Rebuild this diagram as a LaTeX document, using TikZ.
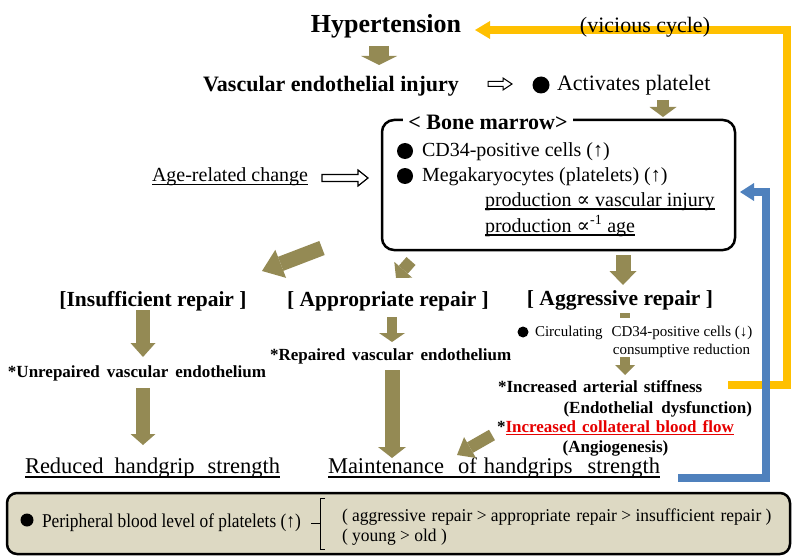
\documentclass[tikz,border=0pt]{standalone}
\usepackage{fontspec}
\setmainfont{Liberation Serif}
\newfontfamily\symf{DejaVu Serif}
\usepackage{graphicx}
\usetikzlibrary{arrows.meta}
\definecolor{olivec}{RGB}{148,138,84}
\definecolor{yelc}{RGB}{255,192,0}
\definecolor{bluc}{RGB}{79,129,189}
\definecolor{beigec}{RGB}{221,217,195}
\definecolor{redc}{RGB}{230,0,0}
\newcommand\fsz[1]{\fontsize{#1}{#1}\selectfont}
\begin{document}
\begin{tikzpicture}[x=1pt,y=-1pt,
  txt/.style={anchor=base,inner sep=0pt,outer sep=0pt},
  oarrow/.style n args={3}{draw=olivec,line width=#1,-{Triangle[width=#2,length=#3,line width=0pt]}},
  ulin/.style={line width=1.1pt},
  bullet/.style={circle,fill=black,inner sep=0pt,outer sep=0pt,minimum size=#1},
  warrow/.style={draw=black,fill=white,line width=1pt,line join=miter},
]
\useasboundingbox (0,0) rectangle (795,559);

% ---- cycle connectors
\coordinate (y1) at (728,385);
\coordinate (y2) at (787,385);
\coordinate (y3) at (787,30);
\coordinate (y4) at (475,30);
\draw[yelc,line width=8pt,-{Triangle[length=15pt,width=18pt,line width=0pt]}] (y1) -- (y2) -- (y3) -- (y4);
\coordinate (b1) at (678,478);
\coordinate (b2) at (766,478);
\coordinate (b3) at (766,192);
\coordinate (b4) at (740,192);
\draw[bluc,line width=8pt,-{Triangle[length=14pt,width=18pt,line width=0pt]}] (b1) -- (b2) -- (b3) -- (b4);

% ---- top
\node[txt,font=\bfseries\fsz{26}] (hyp) at (386,33) {Hypertension};
\node[txt,font=\fsz{22}] (vc) at (645,33) {(vicious cycle)};
\node[txt,font=\bfseries\fsz{22}] (vei) at (331,92) {Vascular endothelial injury};
\draw[warrow] (488,81.5) -- (503,81.5) -- (503,78) -- (512,84) -- (503,90) -- (503,86.5) -- (488,86.5) -- cycle;
\node[bullet=17pt] (bu0) at (541,85) {};
\node[txt,anchor=base west,font=\fsz{22}] (act) at (557,91) {Activates platelet};

\coordinate (a1s) at (379,46);  \coordinate (a1e) at (379,65);
\draw[oarrow={20pt}{36pt}{9pt}] (a1s) -- (a1e);
\coordinate (a2s) at (663,100); \coordinate (a2e) at (663,117);
\draw[oarrow={12pt}{27pt}{10pt}] (a2s) -- (a2e);

% ---- bone marrow box
\node[draw,line width=2.5pt,rounded corners=12pt,minimum width=353pt,minimum height=130pt,inner sep=0pt] (bm) at (558.5,185) {};
\node[txt,fill=white,inner xsep=5pt,font=\bfseries\fsz{22}] (bmt) at (488,130) {< Bone marrow>};
\node[bullet=16pt] (bu1) at (405,151) {};
\node[txt,anchor=base west,font=\fsz{20}] (cd34) at (422,157) {CD34-positive cells (↑)};
\node[bullet=16pt] (bu2) at (405,176) {};
\node[txt,anchor=base west,font=\fsz{20}] (mega) at (422,182) {Megakaryocytes (platelets) (↑)};
\node[txt,anchor=base west,font=\fsz{20}] (prod1) at (485,206) {production {\symf ∝} vascular injury\hspace{4pt}};
\draw[ulin] ([yshift=-3pt]prod1.base west) -- ([yshift=-3pt]prod1.base east);
\node[txt,anchor=base west,font=\fsz{20}] (prod2) at (485,232) {production {\symf ∝}\textsuperscript{-1} age\hspace{4pt}};
\draw[ulin] ([yshift=-3pt]prod2.base west) -- ([yshift=-3pt]prod2.base east);

% ---- age
\node[txt,anchor=base west,font=\fsz{20}] (age) at (152,182) {Age-related change};
\draw[ulin] ([yshift=-2.5pt]age.base west) -- ([yshift=-2.5pt]age.base east);
\draw[warrow,line width=1.2pt] (322,174.5) -- (358,174.5) -- (358,170) -- (368,178) -- (358,186) -- (358,181.5) -- (322,181.5) -- cycle;

% ---- arrows from the box
\coordinate (a3s) at (322,248); \coordinate (a3e) at (262,271);
\draw[oarrow={15pt}{30pt}{20pt}] (a3s) -- (a3e);
\coordinate (a4s) at (411,261); \coordinate (a4e) at (396,278);
\draw[oarrow={12pt}{24pt}{11pt}] (a4s) -- (a4e);
\coordinate (a5s) at (623,255); \coordinate (a5e) at (623,285);
\draw[oarrow={15pt}{27pt}{14pt}] (a5s) -- (a5e);

% ---- repair headings
\node[txt,font=\bfseries\fsz{21.5}] (ins) at (153,306) {[Insufficient repair ]};
\node[txt,font=\bfseries\fsz{21.5}] (app) at (388,306) {[ Appropriate repair ]};
\node[txt,font=\bfseries\fsz{21.5}] (agg) at (620,305) {[ Aggressive repair ]};

% ---- insufficient branch
\coordinate (a6s) at (143,310); \coordinate (a6e) at (143,357);
\draw[oarrow={14pt}{25pt}{14pt}] (a6s) -- (a6e);
\node[txt,anchor=base west,font=\bfseries\fsz{17}] (unr) at (8,377) {*Unrepaired\hspace{7pt}vascular\hspace{7pt}endothelium};
\coordinate (a7s) at (143,388); \coordinate (a7e) at (143,445);
\draw[oarrow={14pt}{25pt}{11pt}] (a7s) -- (a7e);
\node[txt,anchor=base west,font=\fsz{22.5}] (red) at (25,473) {Reduced\hspace{11pt}handgrip\hspace{13pt}strength};
\draw[ulin] ([yshift=-4pt]red.base west) -- ([yshift=-4pt]red.base east);

% ---- appropriate branch
\coordinate (a8s) at (392,317); \coordinate (a8e) at (392,342);
\draw[oarrow={10pt}{26pt}{9pt}] (a8s) -- (a8e);
\node[txt,anchor=base west,font=\bfseries\fsz{17}] (rep) at (270,360) {*Repaired\hspace{7pt}vascular\hspace{7pt}endothelium};
\coordinate (a9s) at (392,370); \coordinate (a9e) at (392,458);
\draw[oarrow={15pt}{28pt}{11pt}] (a9s) -- (a9e);
\node[txt,anchor=base west,font=\fsz{22.5}] (mnt) at (328,473) {Maintenance\hspace{14pt}of\hspace{7pt}handgrips\hspace{15pt}strength};
\draw[ulin] ([yshift=-4pt]mnt.base west) -- ([yshift=-4pt]mnt.base east);

% ---- aggressive branch
\fill[olivec] (620,313) rectangle (630,318);
\node[bullet=11pt] (bu3) at (523,332) {};
\node[txt,anchor=base west,font=\fsz{15}] (circ) at (535,336) {Circulating\hspace{9pt}CD34-positive cells (↓)};
\node[txt,anchor=base east,font=\fsz{15}] (cons) at (750,354) {consumptive reduction};
\coordinate (a11s) at (625,357); \coordinate (a11e) at (625,375);
\draw[oarrow={10pt}{20pt}{10pt}] (a11s) -- (a11e);
\node[txt,anchor=base west,font=\bfseries\fsz{17}] (ias) at (498,392) {*Increased\hspace{6pt}arterial\hspace{6pt}stiffness};
\node[txt,anchor=base east,font=\bfseries\fsz{17}] (edf) at (752,413) {(Endothelial\hspace{8pt}dysfunction)};
\node[txt,anchor=base west,font=\bfseries\fsz{17}] (star) at (497,432) {*};
\node[txt,anchor=base west,font=\bfseries\fsz{17},text=redc] (icb) at (star.base east) {Increased\hspace{6pt}collateral\hspace{6pt}blood\hspace{6pt}flow};
\draw[ulin,redc] ([yshift=-2.5pt]icb.base west) -- ([yshift=-2.5pt]icb.base east);
\node[txt,font=\bfseries\fsz{17}] (ang) at (615.5,452) {(Angiogenesis)};
\coordinate (a12s) at (492,435); \coordinate (a12e) at (457,455);
\draw[oarrow={12pt}{24pt}{15pt}] (a12s) -- (a12e);

% ---- bottom box
\node[draw,fill=beigec,line width=2.5pt,rounded corners=10pt,minimum width=783pt,minimum height=61pt,inner sep=0pt] (pbox) at (398.5,523.5) {};
\node[bullet=13pt] (bu4) at (27,520) {};
\node[txt,anchor=base west,font=\fsz{19.5}] (per) at (42,527) {\scalebox{0.89}[1]{Peripheral blood level of platelets (↑)}};
\draw[line width=1pt] (311,523) -- (320,523);
\draw[line width=1pt] (325,498) -- (320,498) -- (320,549) -- (325,549);
\node[txt,anchor=base west,font=\fsz{18}] (l1) at (342,521) {\scalebox{0.97}[1]{( aggressive\hspace{6pt}repair > appropriate\hspace{6pt}repair > insufficient\hspace{6pt}repair )}};
\node[txt,anchor=base west,font=\fsz{18}] (l2) at (342,541) {\scalebox{0.97}[1]{( young > old )}};
\end{tikzpicture}
\end{document}
